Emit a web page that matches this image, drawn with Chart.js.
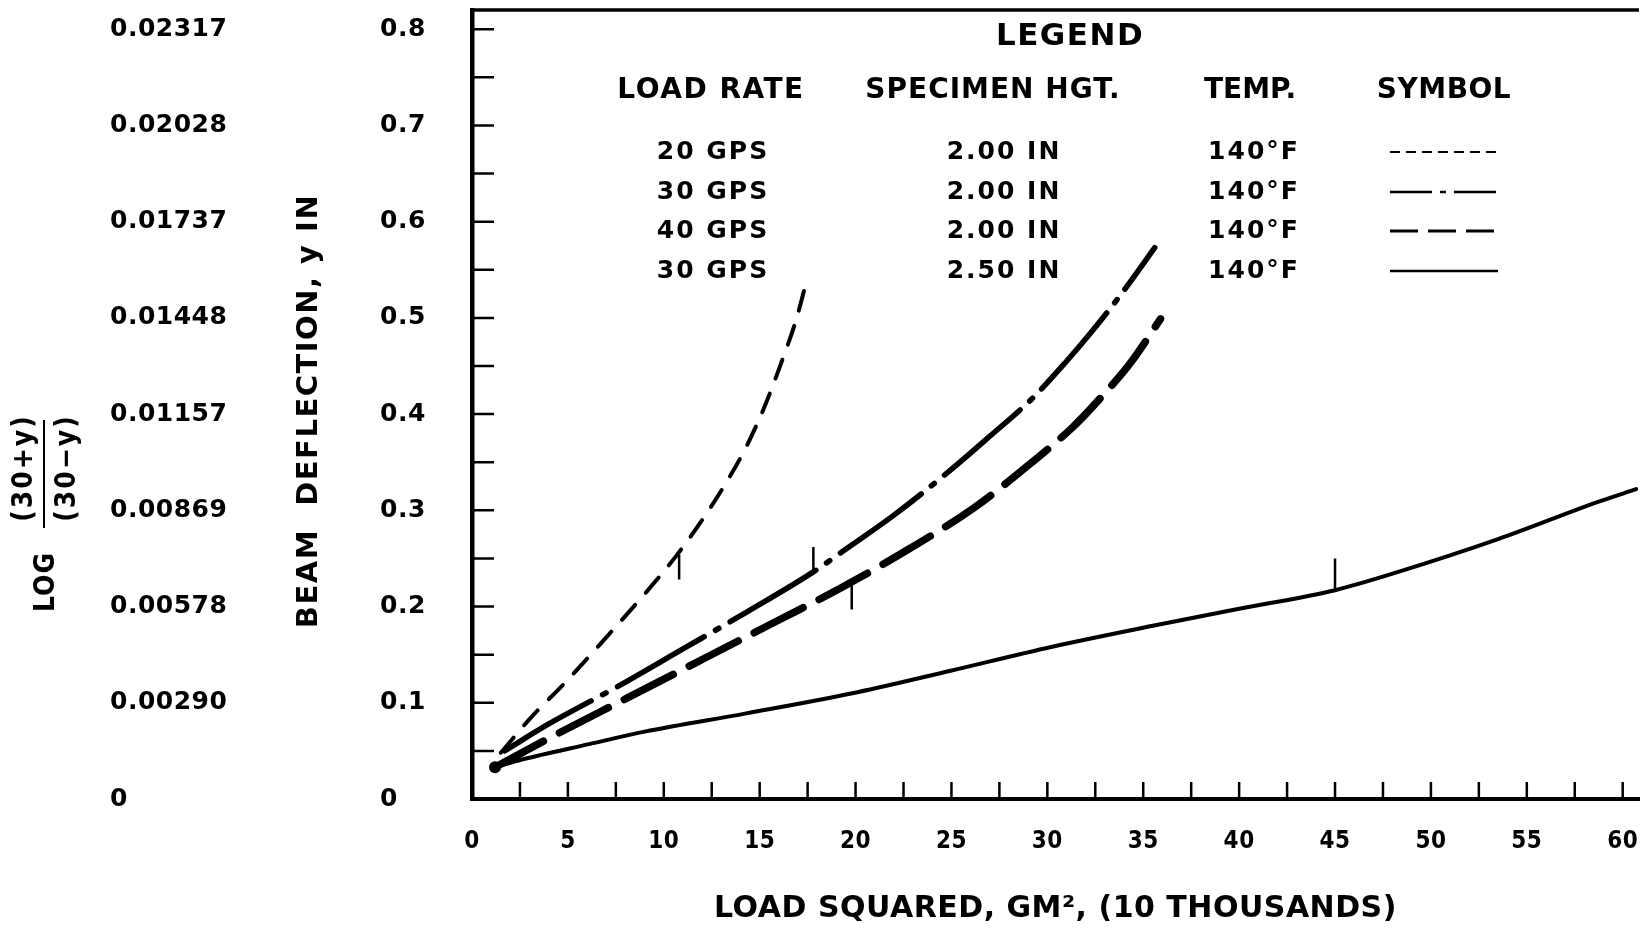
<!DOCTYPE html>
<html>
<head>
<meta charset="utf-8">
<script src="https://cdn.jsdelivr.net/npm/chart.js@4.4.1/dist/chart.umd.min.js"></script>
<style>
  body { margin: 0; background: #fff; }
</style>
</head>
<body>
<canvas id="myChart" width="1645" height="931"></canvas>
<script>
// values: x = load squared (10 thousand gm^2), y = deflection (in)
const rate20X = [1.5, 3, 5, 7, 9, 10.7, 12, 13.2, 14.3, 15.3, 16.1, 16.9, 17.4]
const rate20Y = [0.048, 0.083, 0.124, 0.168, 0.213, 0.254, 0.29, 0.327, 0.366, 0.41, 0.452, 0.498, 0.535]

const rate30X = [1.7, 4, 7.6, 11, 14.3, 17.8, 19.3, 22, 24.9, 27, 29.2, 31, 32.2, 33.9, 35.6]
const rate30Y = [0.05, 0.078, 0.117, 0.156, 0.194, 0.236, 0.257, 0.295, 0.341, 0.377, 0.416, 0.455, 0.483, 0.526, 0.573]

const rate40X = [1.2, 4, 8, 12, 16, 19.3, 22.8, 26.2, 29.2, 31.3, 32.6, 34.4, 35.9]
const rate40Y = [0.033, 0.063, 0.104, 0.145, 0.186, 0.22, 0.26, 0.303, 0.35, 0.386, 0.413, 0.455, 0.499]

const tallX = [1.2, 2.6, 6.1, 9, 14.3, 20.1, 24.9, 30.2, 35.5, 39.8, 45, 48.3, 53.5, 58.75, 60.7]
const tallY = [0.033, 0.041, 0.057, 0.07, 0.089, 0.111, 0.133, 0.158, 0.18, 0.197, 0.217, 0.236, 0.27, 0.309, 0.322]

// little vertical marks on the curves
const markX = [10.8, 17.8, 19.8, 45.0]
const markLow = [0.228, 0.236, 0.197, 0.216]
const markHigh = [0.254, 0.262, 0.223, 0.25]

const xTickLabels = ['0', '5', '10', '15', '20', '25', '30', '35', '40', '45', '50', '55', '60']
const yTickLabels = ['0', '0.1', '0.2', '0.3', '0.4', '0.5', '0.6', '0.7', '0.8']
const logTickLabels = ['0', '0.00290', '0.00578', '0.00869', '0.01157', '0.01448', '0.01737', '0.02028', '0.02317']

const loadRates = ['20 GPS', '30 GPS', '40 GPS', '30 GPS']
const specimenHeights = ['2.00 IN', '2.00 IN', '2.00 IN', '2.50 IN']
const temps = ['140°F', '140°F', '140°F', '140°F']

function toPoints(xs, ys) {
    return xs.map((x, i) => ({ x: x, y: ys[i] }))
}

function markPoints() {
    const pts = []
    markX.forEach((x, i) => {
        pts.push({ x: x, y: markLow[i] })
        pts.push({ x: x, y: markHigh[i] })
        pts.push({ x: x, y: null })
    })
    return pts
}

const legendDash = [[10, 6], [42, 8, 6, 8], [28, 10], []]
const legendWidth = [2, 2.5, 3, 2.5]

const bodyFont = "'DejaVu Sans', sans-serif"
const narrowFont = "'DejaVu Sans Condensed', 'DejaVu Sans', sans-serif"

const paperPlugin = {
    id: 'paper',
    beforeDraw(chart) {
        chart.ctx.letterSpacing = '0.5px'
    },
    afterDraw(chart) {
        const ctx = chart.ctx
        const area = chart.chartArea
        const xs = chart.scales.x
        const ys = chart.scales.y
        ctx.save()
        ctx.strokeStyle = '#000'
        ctx.fillStyle = '#000'

        // top frame line
        ctx.lineWidth = 3.5
        ctx.beginPath()
        ctx.moveTo(area.left - 2, area.top)
        ctx.lineTo(area.right, area.top)
        ctx.stroke()

        // inward tick marks
        ctx.lineWidth = 2.5
        ctx.beginPath()
        ys.ticks.forEach(t => {
            const py = ys.getPixelForValue(t.value)
            ctx.moveTo(area.left, py)
            ctx.lineTo(area.left + 22, py)
        })
        xs.ticks.forEach(t => {
            const px = xs.getPixelForValue(t.value)
            ctx.moveTo(px, area.bottom)
            ctx.lineTo(px, area.bottom - 17)
        })
        ctx.stroke()

        // rotated axis titles
        ctx.textAlign = 'center'
        ctx.textBaseline = 'middle'
        ctx.save()
        ctx.translate(309, 411)
        ctx.rotate(-Math.PI / 2)
        ctx.letterSpacing = '1.5px'
        ctx.font = 'bold 29px ' + bodyFont
        ctx.fillText('BEAM  DEFLECTION, y IN', 0, 0)
        ctx.restore()

        ctx.font = 'bold 28px ' + narrowFont
        ctx.save()
        ctx.translate(47, 582)
        ctx.rotate(-Math.PI / 2)
        ctx.letterSpacing = '1px'
        ctx.fillText('LOG', 0, 0)
        ctx.restore()

        ctx.save()
        ctx.translate(25, 468)
        ctx.rotate(-Math.PI / 2)
        ctx.letterSpacing = '2px'
        ctx.fillText('(30+y)', 0, 0)
        ctx.restore()

        ctx.save()
        ctx.translate(68, 468)
        ctx.rotate(-Math.PI / 2)
        ctx.letterSpacing = '2px'
        ctx.fillText('(30\u2212y)', 0, 0)
        ctx.restore()

        ctx.lineWidth = 2
        ctx.beginPath()
        ctx.moveTo(44, 420)
        ctx.lineTo(44, 528)
        ctx.stroke()

        // legend table
        ctx.letterSpacing = '1.5px'
        ctx.font = 'bold 31px ' + bodyFont
        ctx.fillText('LEGEND', 1070, 37)
        ctx.font = 'bold 28px ' + bodyFont
        ctx.letterSpacing = '1.5px'
        ctx.fillText('LOAD RATE', 711, 91)
        ctx.letterSpacing = '1px'
        ctx.fillText('SPECIMEN HGT.', 993, 91)
        ctx.letterSpacing = '0px'
        ctx.fillText('TEMP.', 1250, 91)
        ctx.letterSpacing = '0.5px'
        ctx.fillText('SYMBOL', 1444, 91)

        const rowY = [152, 192, 231, 271]
        ctx.font = 'bold 25px ' + bodyFont
        ctx.letterSpacing = '2px'
        rowY.forEach((y, i) => {
            ctx.fillText(loadRates[i], 713, y)
            ctx.fillText(specimenHeights[i], 1004, y)
            ctx.fillText(temps[i], 1254, y)
            ctx.save()
            ctx.lineWidth = legendWidth[i]
            ctx.setLineDash(legendDash[i])
            ctx.beginPath()
            ctx.moveTo(1390, y)
            ctx.lineTo(1498, y)
            ctx.stroke()
            ctx.restore()
        })
        ctx.restore()
    }
}

const ctx = document.getElementById('myChart')
new Chart(ctx, {
    type: 'line',
    data: {
        datasets: [
            {
                label: '20 GPS 2.00 IN',
                data: toPoints(rate20X, rate20Y),
                borderColor: '#000',
                borderWidth: 4,
                borderDash: [20, 16],
                borderCapStyle: 'round',
                pointRadius: 0,
                cubicInterpolationMode: 'monotone'
            },
            {
                label: '30 GPS 2.00 IN',
                data: toPoints(rate30X, rate30Y),
                borderColor: '#000',
                borderWidth: 5.5,
                borderDash: [100, 13, 4, 13],
                borderCapStyle: 'round',
                pointRadius: 0,
                cubicInterpolationMode: 'monotone'
            },
            {
                label: '40 GPS 2.00 IN',
                data: toPoints(rate40X, rate40Y),
                borderColor: '#000',
                borderWidth: 7.5,
                borderDash: [55, 18],
                borderCapStyle: 'round',
                pointRadius: (c) => c.dataIndex === 0 ? 6 : 0,
                pointBackgroundColor: '#000',
                pointBorderWidth: 0,
                cubicInterpolationMode: 'monotone'
            },
            {
                label: '30 GPS 2.50 IN',
                data: toPoints(tallX, tallY),
                borderColor: '#000',
                borderWidth: 4,
                borderCapStyle: 'round',
                pointRadius: 0,
                cubicInterpolationMode: 'monotone'
            },
            {
                label: 'marks',
                data: markPoints(),
                borderColor: '#000',
                borderWidth: 2.5,
                pointRadius: 0,
                spanGaps: false
            }
        ]
    },
    options: {
        responsive: false,
        animation: false,
        layout: {
            padding: { left: 110, top: 10, right: 0, bottom: 0 }
        },
        plugins: {
            legend: { display: false },
            tooltip: { enabled: false }
        },
        scales: {
            x: {
                type: 'linear',
                min: 0,
                max: 60.85,
                afterFit: (scale) => { scale.height = 132 },
                grid: { display: false, drawTicks: false },
                border: { color: '#000', width: 4 },
                ticks: {
                    stepSize: 2.5,
                    includeBounds: false,
                    autoSkip: false,
                    maxRotation: 0,
                    padding: 0,
                    color: '#000',
                    font: { family: narrowFont, size: 24, weight: 'bold', lineHeight: '86px' },
                    callback: (value, index) => index % 2 === 0 ? xTickLabels[index / 2] : ''
                },
                title: {
                    display: true,
                    text: 'LOAD SQUARED, GM\u00b2, (10 THOUSANDS)',
                    color: '#000',
                    font: { family: bodyFont, size: 30, weight: 'bold' },
                    padding: { top: 0, bottom: 4 }
                }
            },
            y: {
                type: 'linear',
                position: 'left',
                weight: 0,
                min: 0,
                max: 0.82,
                afterFit: (scale) => { scale.width = 92 },
                grid: { display: false, drawTicks: false },
                border: { color: '#000', width: 4.5 },
                ticks: {
                    stepSize: 0.05,
                    includeBounds: false,
                    autoSkip: false,
                    crossAlign: 'far',
                    padding: 0,
                    color: '#000',
                    font: { family: bodyFont, size: 25, weight: 'bold', lineHeight: '18px' },
                    callback: (value, index) => index % 2 === 0 ? yTickLabels[index / 2] : ''
                }
            },
            log: {
                type: 'linear',
                position: 'left',
                weight: 1,
                min: 0,
                max: 0.82,
                afterFit: (scale) => { scale.width = 270 },
                grid: { display: false, drawTicks: false },
                border: { display: false },
                ticks: {
                    stepSize: 0.1,
                    includeBounds: false,
                    autoSkip: false,
                    crossAlign: 'far',
                    padding: 0,
                    color: '#000',
                    font: { family: bodyFont, size: 25, weight: 'bold', lineHeight: '18px' },
                    callback: (value, index) => logTickLabels[index]
                }
            }
        }
    },
    plugins: [paperPlugin]
});
</script>
</body>
</html>
